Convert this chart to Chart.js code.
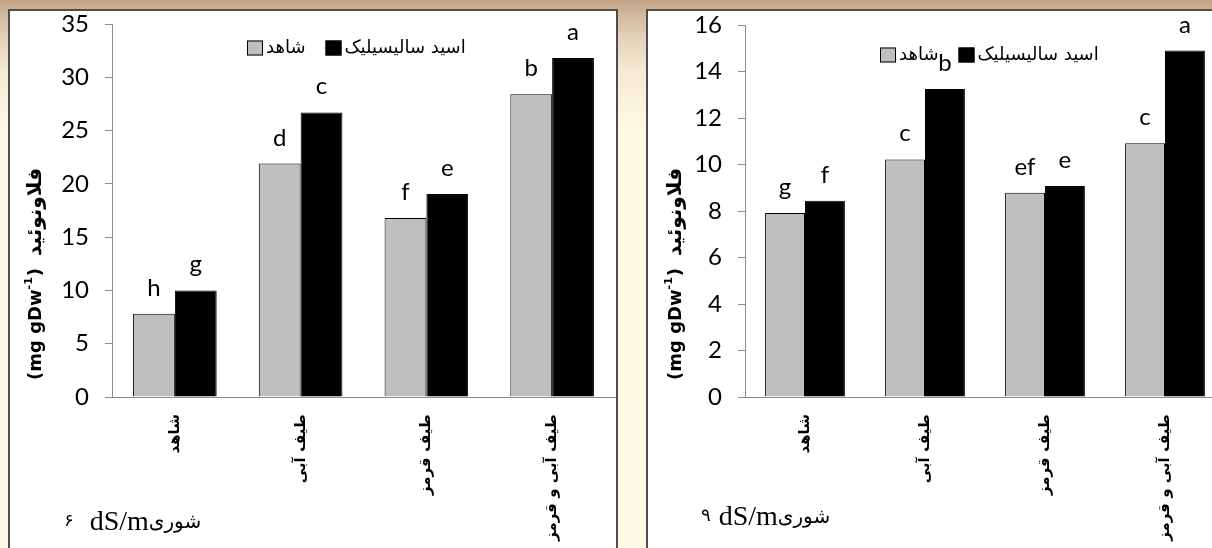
<!DOCTYPE html>
<html><head><meta charset="utf-8">
<script src="https://cdn.jsdelivr.net/npm/chart.js@4.4.1/dist/chart.umd.min.js"></script>
<style>
html,body{margin:0;padding:0;width:1212px;height:548px;overflow:hidden;}
body{position:relative;background:linear-gradient(180deg,#c2a487 0px,#d0b89d 14px,#e4d2bb 38px,#f6ecd6 75px,#fff9e3 130px,#fffae6 100%);}
.panel{position:absolute;background:#fff;border:2px solid #4d4d4d;border-bottom:none;overflow:hidden;}
#p1{left:8px;top:9px;width:606px;height:560px;}
#p2{left:646px;top:9px;width:600px;height:560px;border-right:none;}
canvas{position:absolute;left:0;top:0;}
</style></head>
<body>
<div class="panel" id="p1"><canvas id="c1" width="606" height="537"></canvas></div>
<div class="panel" id="p2"><canvas id="c2" width="577" height="537"></canvas></div>
<script>
// ---- data ----
const categories = ['شاهد', 'طیف آبی', 'طیف قرمز', 'طیف آبی و قرمز'];
const seriesNames = ['شاهد', 'اسید سالیسیلیک'];
const yTitleFa = 'فلاونوئید';
const yTitleUnit = '(mg gDw';
const yTitleSup = '-1';
const salinityWord = 'شوری';
const salinityUnit = 'dS/m';
// salinity 6 dS/m
const control6 = [7.8, 21.9, 16.8, 28.4];
const salicylic6 = [10.0, 26.7, 19.05, 31.8];
const letters6Control = ['h', 'd', 'f', 'b'];
const letters6Salicylic = ['g', 'c', 'e', 'a'];
const yMax6 = 35, yStep6 = 5, level6 = '۶';
// salinity 9 dS/m
const control9 = [7.91, 10.22, 8.79, 10.91];
const salicylic9 = [8.44, 13.25, 9.08, 14.9];
const letters9Control = ['g', 'c', 'ef', 'c'];
const letters9Salicylic = ['f', 'b', 'e', 'a'];
const yMax9 = 16, yStep9 = 2, level9 = '۹';

const NUM_FONT = '"Liberation Sans Narrow", Lato, sans-serif';

// ---- plugins ----
const lettersPlugin = {
  id: 'sigLetters',
  afterDatasetsDraw(chart, args, o) {
    const ctx = chart.ctx; ctx.save();
    ctx.font = o.font; ctx.fillStyle = '#000'; ctx.textAlign = 'center'; ctx.textBaseline = 'alphabetic';
    o.letters.forEach((arr, di) => {
      chart.getDatasetMeta(di).data.forEach((bar, i) => ctx.fillText(arr[i], bar.x, bar.y - o.offset));
    });
    ctx.restore();
  }
};
const legendPlugin = {
  id: 'inLegend',
  afterDraw(chart, args, o) {
    const ctx = chart.ctx, ca = chart.chartArea; ctx.save();
    ctx.font = o.font; ctx.textBaseline = 'middle'; ctx.textAlign = 'left';
    let x = ca.left + o.dx; const y = ca.top + o.dy;
    chart.data.datasets.forEach(ds => {
      ctx.fillStyle = ds.backgroundColor; ctx.fillRect(x, y - 7.5, 16, 15);
      ctx.strokeStyle = '#000'; ctx.lineWidth = 1; ctx.strokeRect(x + 0.5, y - 7, 15, 14);
      x += 19; ctx.fillStyle = '#000'; ctx.fillText(ds.label, x, y);
      x += ctx.measureText(ds.label).width + 20;
    });
    ctx.restore();
  }
};
const yTitlePlugin = {
  id: 'yTitle',
  afterDraw(chart, args, o) {
    const ctx = chart.ctx; ctx.save();
    ctx.translate(o.x, o.y); ctx.rotate(-Math.PI / 2);
    ctx.textAlign = 'left'; ctx.textBaseline = 'middle'; ctx.fillStyle = '#000';
    const parts = [
      [yTitleUnit, 'bold 18px "DejaVu Sans"', 0, 0],
      [yTitleSup, 'bold 11px "DejaVu Sans"', -7, 1],
      [')', 'bold 18px "DejaVu Sans"', 0, 12],
      [yTitleFa, 'bold 20px "DejaVu Sans"', 0, 0]
    ];
    let x = 0;
    parts.forEach(([t, f, dy, gap]) => {
      ctx.font = f; ctx.fillText(t, x, dy);
      x += ctx.measureText(t).width + gap;
    });
    ctx.restore();
  }
};
const footerPlugin = {
  id: 'footer',
  afterDraw(chart, args, o) {
    const ctx = chart.ctx; ctx.save();
    ctx.textAlign = 'left'; ctx.textBaseline = 'alphabetic'; ctx.fillStyle = '#000';
    let x = o.x;
    ctx.font = '18px "DejaVu Sans"'; ctx.fillText(o.level, x, o.y - 4);
    x += ctx.measureText(o.level).width + o.gap;
    ctx.font = '28px "Liberation Serif"'; ctx.fillText(salinityUnit, x, o.y);
    x += ctx.measureText(salinityUnit).width;
    ctx.font = '20px "DejaVu Sans"'; ctx.fillText(salinityWord, x, o.y - 2);
    ctx.restore();
  }
};

function makeChart(id, ctrl, sal, lc, ls, yMax, yStep, cfg) {
  return new Chart(document.getElementById(id), {
    type: 'bar',
    data: {
      labels: categories,
      datasets: [
        { label: seriesNames[0], data: ctrl, backgroundColor: '#bfbfbf', borderColor: '#000', borderWidth: 1, categoryPercentage: 0.665, barPercentage: 1 },
        { label: seriesNames[1], data: sal, backgroundColor: '#000000', borderColor: '#000', borderWidth: 1, categoryPercentage: 0.665, barPercentage: 1 }
      ]
    },
    plugins: [lettersPlugin, legendPlugin, yTitlePlugin, footerPlugin],
    options: {
      responsive: false, animation: false, devicePixelRatio: 1,
      layout: { padding: { top: cfg.top, right: cfg.right, left: 0, bottom: 0 } },
      plugins: {
        legend: { display: false }, tooltip: { enabled: false },
        sigLetters: { letters: [lc, ls], font: '24px ' + NUM_FONT, offset: 18 },
        inLegend: { font: '18px "DejaVu Sans"', dx: 135, dy: cfg.legendDy },
        yTitle: { x: cfg.titleX, y: 369 },
        footer: { x: cfg.footX, y: cfg.footY, gap: cfg.footGap, level: cfg.level }
      },
      scales: {
        x: {
          offset: true,
          grid: { display: false },
          border: { display: true, color: '#8c8c8c', width: 1 },
          ticks: { color: '#000', font: { family: 'DejaVu Sans', size: 15, weight: 'bold' }, minRotation: 90, maxRotation: 90, padding: 9, autoSkip: false },
          afterFit(s) { s.height = 151; s.paddingLeft = 0; s.paddingRight = 0; }
        },
        y: {
          min: 0, max: yMax,
          ticks: { stepSize: yStep, color: '#000', font: { family: NUM_FONT, size: 24 }, padding: 16 },
          grid: { display: true, drawOnChartArea: false, drawTicks: true, tickLength: 7, color: '#8c8c8c' },
          border: { display: true, color: '#8c8c8c', width: 1 },
          afterFit(s) { s.width = cfg.yWidth; s.paddingTop = 0; s.paddingBottom = 0; }
        }
      }
    }
  });
}

makeChart('c1', control6, salicylic6, letters6Control, letters6Salicylic, yMax6, yStep6,
  { top: 13, right: 1, yWidth: 102, legendDy: 24, titleX: 26, footX: 54, footY: 519, footGap: 16, level: level6 });
makeChart('c2', control9, salicylic9, letters9Control, letters9Salicylic, yMax9, yStep9,
  { top: 14, right: 0, yWidth: 97, legendDy: 30, titleX: 28, footX: 53, footY: 514, footGap: 8, level: level9 });
</script>
</body></html>
